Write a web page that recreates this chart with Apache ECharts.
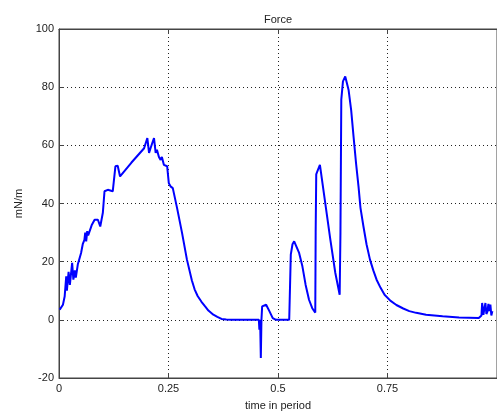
<!DOCTYPE html>
<html>
<head>
<meta charset="utf-8">
<script src="https://cdn.jsdelivr.net/npm/echarts@6/dist/echarts.min.js"></script>
<style>html,body{margin:0;padding:0;background:#fff}#c{width:497px;height:417px}</style>
</head>
<body>
<div id="c"></div>
<script>
var titleText = "Force";
var xName = "time in period";
var yName = "mN/m";
var xTicks = [0, 0.25, 0.5, 0.75, 1];
var yTicks = [-20, 0, 20, 40, 60, 80, 100];
var timeVals = [0.0016,0.0045,0.009,0.0129,0.0165,0.018,0.0219,0.0248,0.030,0.0328,0.0361,0.0384,0.0429,0.0504,0.0542,0.058,0.0599,0.0621,0.0644,0.0666,0.0745,0.0813,0.0888,0.0942,0.1001,0.1039,0.1114,0.1227,0.1288,0.1340,0.1394,0.1650,0.1943,0.2017,0.2056,0.209,0.2130,0.2169,0.2207,0.2236,0.2281,0.232,0.2349,0.2394,0.2469,0.2507,0.2546,0.2598,0.2695,0.2808,0.2921,0.3034,0.3096,0.3165,0.3253,0.3336,0.3411,0.3524,0.3615,0.3711,0.3818,0.3937,0.4314,0.4563,0.4575,0.4592,0.4608,0.4622,0.4638,0.4677,0.4729,0.4806,0.4880,0.4955,0.5256,0.5292,0.5331,0.5369,0.5482,0.5557,0.5631,0.5708,0.5782,0.5851,0.586,0.5873,0.5896,0.5957,0.6047,0.6196,0.6309,0.6408,0.6426,0.6445,0.6483,0.6535,0.6612,0.6671,0.6725,0.6781,0.6838,0.6883,0.6951,0.7021,0.710,0.7176,0.7251,0.7342,0.7433,0.7564,0.7703,0.7859,0.7998,0.8155,0.8381,0.8758,0.9133,0.9584,0.9645,0.9661,0.969,0.9713,0.9736,0.9758,0.9781,0.9804,0.9826,0.9849,0.9871,0.9894];
var forceVals = [3.5,4,5.2,8,15,10,16.5,12,19.6,13.8,17,14.5,19,23,26,27.5,30,27,30.5,29,32.5,34.4,34.4,32.1,36.8,44.2,44.7,44.2,52.8,53,49.3,54,59,62.5,57.4,59,60.8,62.5,57.4,58.5,56,55,56,53.3,52.8,47,45.9,45.3,38.5,30,20.7,13.5,10.5,8.2,6.2,4.6,3.2,1.75,1.0,0.3,0.1,0,0,0,-3.4,0,-13.1,0,4.6,5.2,5.2,2.9,0.6,0,0,22.4,26,27,23,18.4,12,6.9,4,2.5,30,50,51,53.3,43.6,27.5,16.1,8.6,30,75.7,82,83.7,79,72,63,54,45.9,38.5,32.1,26,20.7,17,13.8,11,8.6,6.6,5.1,3.9,3.0,2.4,1.75,1.2,0.8,0.6,1.5,5.8,1.7,4,5.8,2,2.8,5.5,3,5.2,1.5,3];

var data = timeVals.map(function (t, i) { return [t, forceVals[i]]; });
var FONT = "'Liberation Sans', Arial, sans-serif";
var chart = echarts.init(document.getElementById('c'), null, {renderer: 'canvas'});
var tickInterval = xTicks[1] - xTicks[0];
var yInterval = yTicks[1] - yTicks[0];
chart.setOption({
  animation: false,
  backgroundColor: '#fff',
  title: {
    text: titleText, left: 259, top: 9,
    textStyle: {fontFamily: FONT, fontSize: 11, fontWeight: 'normal', color: '#222'}
  },
  grid: {left: 59, top: 29, right: -5, bottom: 39, show: true, borderColor: '#444', borderWidth: 1, backgroundColor: 'transparent'},
  xAxis: [{
    type: 'value', min: xTicks[0], max: xTicks[xTicks.length - 1], interval: tickInterval,
    name: xName, nameLocation: 'middle', nameGap: 22,
    nameTextStyle: {fontFamily: FONT, fontSize: 11, color: '#222'},
    axisLine: {show: true, onZero: false, lineStyle: {color: '#444', width: 1}},
    axisTick: {show: true, inside: true, length: 5, lineStyle: {color: '#444'}},
    axisLabel: {fontFamily: FONT, fontSize: 11, color: '#222', margin: 5, showMaxLabel: false},
    splitLine: {show: true, lineStyle: {color: '#222', type: [1, 3], width: 1}}
  }, {
    type: 'value', position: 'top', min: xTicks[0], max: xTicks[xTicks.length - 1], interval: tickInterval,
    axisLine: {show: true, onZero: false, lineStyle: {color: '#444', width: 1}},
    axisTick: {show: true, inside: true, length: 5, lineStyle: {color: '#444'}},
    axisLabel: {show: false}, splitLine: {show: false}
  }],
  yAxis: {
    type: 'value', min: yTicks[0], max: yTicks[yTicks.length - 1], interval: yInterval,
    name: yName, nameLocation: 'middle', nameGap: 33,
    nameTextStyle: {fontFamily: FONT, fontSize: 11, color: '#222'},
    axisLine: {show: true, onZero: false, lineStyle: {color: '#444', width: 1}},
    axisTick: {show: true, inside: true, length: 5, lineStyle: {color: '#444'}},
    axisLabel: {fontFamily: FONT, fontSize: 11, color: '#222', margin: 5},
    splitLine: {show: true, lineStyle: {color: '#222', type: [1, 3], width: 1}}
  },
  series: [{
    type: 'line', data: data, showSymbol: false, symbol: 'none',
    lineStyle: {color: '#0000ff', width: 2}, itemStyle: {color: '#0000ff'}
  }]
});
</script>
</body>
</html>
